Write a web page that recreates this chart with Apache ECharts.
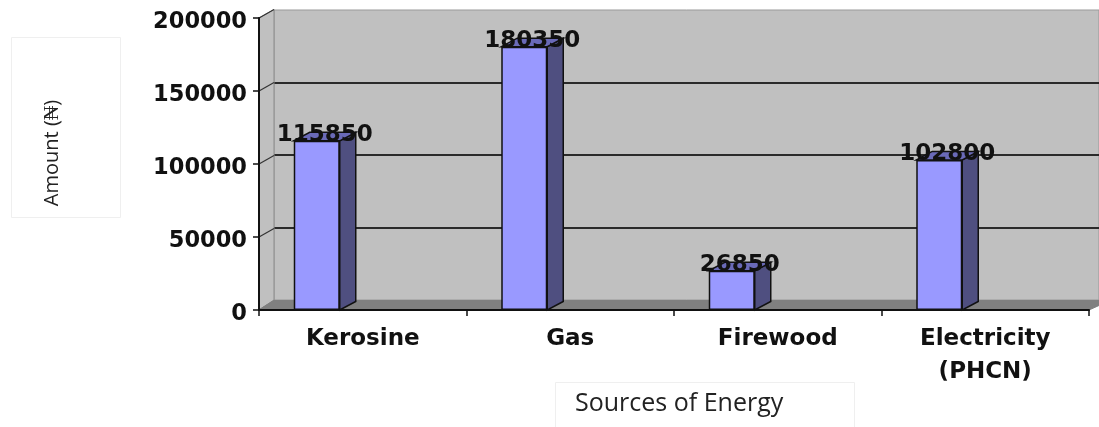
<!DOCTYPE html>
<html><head><meta charset="utf-8">
<style>html,body{margin:0;padding:0;background:#fff}#c{width:1099px;height:427px}</style>
<script src="https://cdn.jsdelivr.net/npm/echarts@6/dist/echarts.min.js"></script>
</head><body><div id="c"></div>
<script>
const categories = ['Kerosine', 'Gas', 'Firewood', 'Electricity\n(PHCN)'];
const amounts = [115850, 180350, 26850, 102800];
const yTicks = [0, 50000, 100000, 150000, 200000];
const xTitle = 'Sources of Energy';
const yTitle = 'Amount (\u20A6)';

const DX = 16, DY = -8.5, BAR = 46, SHIFT = -46;
const bold = '"DejaVu Sans"';
const chart = echarts.init(document.getElementById('c'), null, {renderer: 'canvas'});
const box = (x, y, w, h) => ({type: 'rect', shape: {x, y, width: w, height: h}, style: {fill: '#fff', stroke: '#efefef', lineWidth: 1}});
const poly = (points, fill, stroke, lw) => ({type: 'polygon', shape: {points}, style: {fill, stroke, lineWidth: lw}});

chart.setOption({
  animation: false,
  backgroundColor: '#fff',
  grid: [
    {left: 274, top: 10, width: 825, height: 290, show: true, backgroundColor: '#c0c0c0', borderColor: '#999', borderWidth: 1},
    {left: 259, top: 18, width: 830, height: 292}
  ],
  xAxis: [
    {gridIndex: 0, type: 'category', data: categories, show: false},
    {gridIndex: 1, type: 'category', data: categories, z: 5,
      axisLine: {show: true, lineStyle: {color: '#111', width: 2}},
      axisTick: {show: true, alignWithLabel: false, length: 6, lineStyle: {color: '#111', width: 1.5}},
      axisLabel: {interval: 0, margin: 13, color: '#111', fontFamily: bold, fontWeight: 'bold', fontSize: 23, lineHeight: 33, hideOverlap: false}}
  ],
  yAxis: [
    {gridIndex: 0, type: 'value', min: 0, max: 200000, interval: 50000,
      axisLine: {show: false}, axisTick: {show: false}, axisLabel: {show: false},
      splitLine: {show: true, showMinLine: false, showMaxLine: false, lineStyle: {color: '#2a2a2a', width: 2}}},
    {gridIndex: 1, type: 'value', min: 0, max: 200000, interval: 50000, z: 5,
      axisLine: {show: true, lineStyle: {color: '#111', width: 2}},
      axisTick: {show: true, length: 6, lineStyle: {color: '#111', width: 1.5}},
      axisLabel: {margin: 12, color: '#111', fontFamily: bold, fontWeight: 'bold', fontSize: 22.5, verticalAlign: 'top', lineHeight: 8, formatter: v => String(v)},
      splitLine: {show: false}}
  ],
  series: [
    {type: 'custom', name: 'frame', xAxisIndex: 1, yAxisIndex: 1, z: 1, silent: true, clip: false,
      encode: {y: 0}, data: yTicks.map(v => [v]),
      renderItem(params, api) {
        const p = api.coord([0, api.value(0)]);
        const x0 = params.coordSys.x, y0 = params.coordSys.y + params.coordSys.height;
        const xR = params.coordSys.x + params.coordSys.width;
        const yT = params.coordSys.y;
        const kids = [];
        if (params.dataIndex === 0) {
          kids.push(poly([[x0, yT], [x0 + 15, yT + DY], [x0 + 15, y0 - 10], [x0, y0]], '#c0c0c0', '#8c8c8c', 1));
          kids.push(poly([[x0, y0], [x0 + 15, y0 - 9.5], [1110, y0 - 9.5], [xR, y0]], '#808080', '#808080', 1));
        }
        const first = params.dataIndex === 0;
        kids.push({type: 'line', shape: {x1: x0, y1: p[1], x2: x0 + 15, y2: p[1] + (first ? -9.5 : DY)},
          style: {stroke: first ? '#808080' : '#333', lineWidth: 1.2}});
        return {type: 'group', children: kids};
      }},
    {type: 'custom', name: 'depth', xAxisIndex: 1, yAxisIndex: 1, z: 2, silent: true,
      encode: {x: 0, y: 1}, data: amounts.map((v, i) => [i, v]),
      renderItem(params, api) {
        const t = api.coord([api.value(0), api.value(1)]);
        const b = api.coord([api.value(0), 0]);
        const r = t[0] + SHIFT + BAR / 2, l = r - BAR;
        return {type: 'group', children: [
          poly([[r, t[1]], [r + DX, t[1] + DY], [r + DX, b[1] + DY], [r, b[1]]], '#4f4f80', '#111', 1.5),
          poly([[l, t[1]], [r, t[1]], [r + DX, t[1] + DY], [l + DX, t[1] + DY]], '#6a6ab8', '#111', 1.5)
        ]};
      }},
    {type: 'bar', name: 'Amount', xAxisIndex: 1, yAxisIndex: 1, z: 3, data: amounts, barWidth: BAR, barGap: '100%',
      itemStyle: {color: '#9999ff', borderColor: '#111', borderWidth: 1.5},
      label: {show: true, position: 'top', distance: 0, offset: [8, 6], color: '#111', fontFamily: bold, fontWeight: 'bold', fontSize: 23}},
    {type: 'bar', name: 'spacer', xAxisIndex: 1, yAxisIndex: 1, data: [], barWidth: BAR, silent: true}
  ],
  graphic: [
    box(11.5, 37.5, 109, 180),
    box(555.5, 382.5, 299, 60),
    {type: 'text', x: 52, y: 153, rotation: Math.PI / 2, style: {text: yTitle, fill: '#222', font: '20px "Open Sans"', align: 'center', verticalAlign: 'middle'}},
    {type: 'text', x: 575, y: 404, style: {text: xTitle, fill: '#222', font: '25px "Open Sans"', align: 'left', verticalAlign: 'middle'}}
  ]
});
</script></body></html>
